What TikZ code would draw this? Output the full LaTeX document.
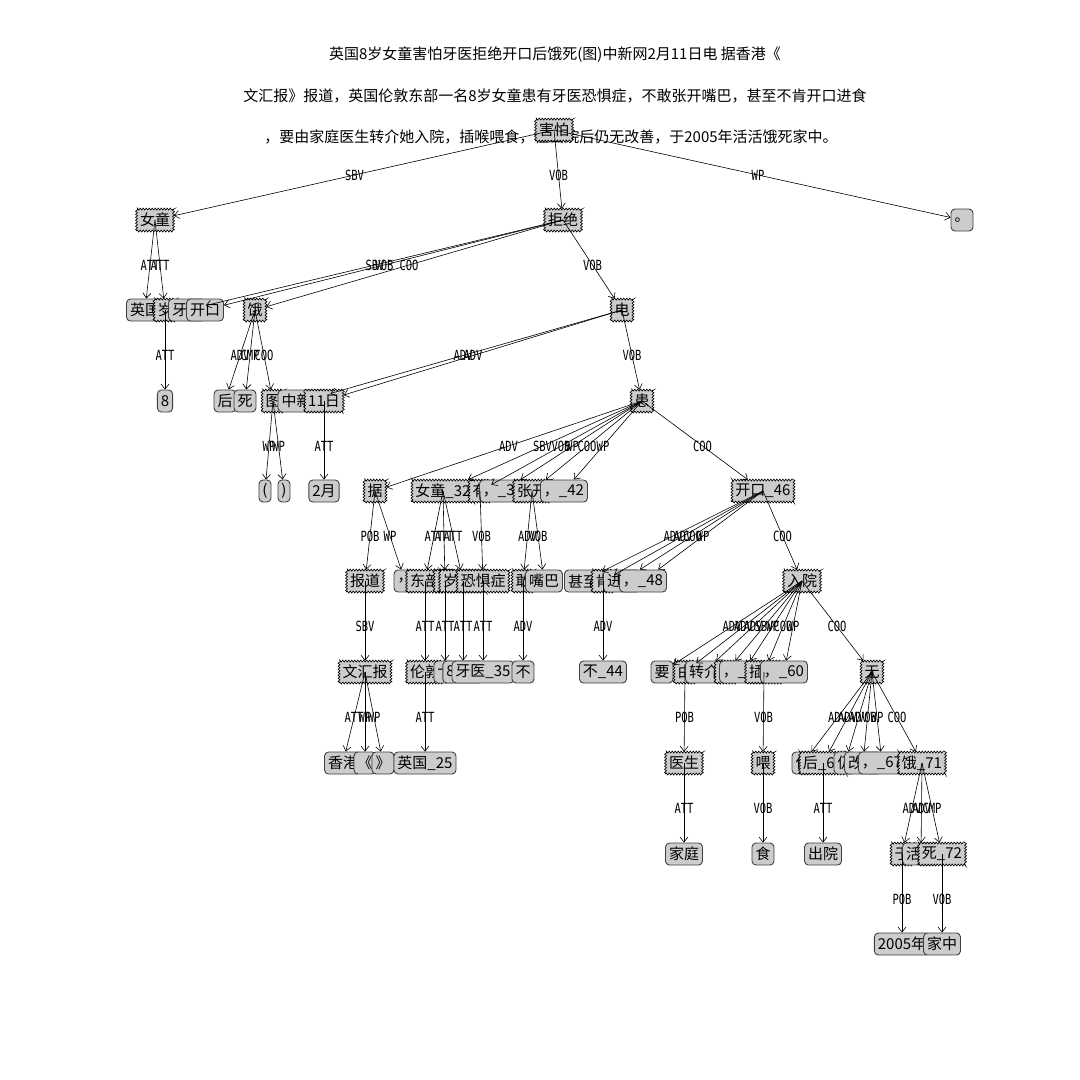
\documentclass[tikz,border=0pt]{standalone}
\usepackage{fontspec}
\usetikzlibrary{decorations.pathmorphing,arrows.meta}
\newfontfamily\cjk{Noto Sans CJK SC}
\newfontfamily\labfont[FakeStretch=0.75]{DejaVu Sans Mono}
\newcommand\depedge[3]{\draw[edge] (#1.center) -- (#2); \path (#1.center) -- (#2.center) node[midway,lab]{#3};}
\tikzset{
  base/.style={font=\cjk\fontsize{15}{15}\selectfont, fill=gray!40, inner xsep=3.5pt, inner ysep=0pt, minimum height=22pt},
  Z/.style={base, draw=black, line width=0.6pt, decorate, decoration={zigzag, segment length=3pt, amplitude=1pt}},
  R/.style={base, draw=black!75, line width=0.9pt, rounded corners=4pt},
  lab/.style={font=\labfont\fontsize{14}{14}\selectfont, inner sep=0pt},
  edge/.style={line width=0.6pt, -{Straight Barb[length=5pt,width=8pt]}},
  ttl/.style={font=\cjk\fontsize{15}{15}\selectfont, inner sep=0pt}
}
\begin{document}
\begin{tikzpicture}[x=1pt,y=-1pt]
\useasboundingbox (0,0) rectangle (1080,1080);
\fill[white] (0,0) rectangle (1080,1080);
% title
\node[ttl] (t1) at (555,55) {英国8岁女童害怕牙医拒绝开口后饿死(图)中新网2月11日电 据香港《};
\node[ttl] (t2) at (555,96) {文汇报》报道，英国伦敦东部一名8岁女童患有牙医恐惧症，不敢张开嘴巴，甚至不肯开口进食};
\node[ttl] (t3) at (551,137) {，要由家庭医生转介她入院，插喉喂食，但出院后仍无改善，于2005年活活饿死家中。};
% level 0
\node[Z] (hp) at (554,130) {害怕};
% level 1
\node[Z] (nt) at (155,220) {女童};
\node[Z] (jj) at (563,220) {拒绝};
\node[R] (ju) at (962,220) {。};
% level 2
\node[R] (yg) at (145,310) {英国};
\node[Z] (sui) at (165,310) {岁};
\node[R] (yy) at (187,310) {牙医};
\node[R] (kk) at (205,310) {开口};
\node[Z] (e) at (255,310) {饿};
\node[Z] (dian) at (622,310) {电};
% level 3
\node[R] (e8) at (165,401) {8};
\node[R] (hou) at (225,401) {后};
\node[R] (si) at (245,401) {死};
\node[Z] (tu) at (273,401) {图};
\node[R] (zxw) at (304,401) {中新网};
\node[Z] (r11) at (324,401) {11日};
\node[Z] (huan) at (642,401) {患};
% level 4
\node[R] (lp) at (265,491) {(};
\node[R] (rp) at (284,491) {)};
\node[R] (feb) at (324,491) {2月};
\node[Z] (ju4) at (375,491) {据};
\node[Z] (nt32) at (443,491) {女童\_32};
\node[Z] (you) at (480,491) {有};
\node[R] (c37) at (503,491) {，\_37};
\node[Z] (zk) at (532,491) {张开};
\node[R] (c42) at (564,491) {，\_42};
\node[Z] (kk46) at (763,491) {开口\_46};
% level 5
\node[Z] (bd) at (365,581) {报道};
\node[R] (c24) at (405,581) {，};
\node[Z] (db) at (425,581) {东部};
\node[Z] (ming) at (445,581) {名};
\node[Z] (sui31) at (463,581) {岁\_31};
\node[Z] (kjz) at (483,581) {恐惧症};
\node[Z] (gan) at (523,581) {敢};
\node[R] (zb) at (544,581) {嘴巴};
\node[R] (sz) at (583,581) {甚至};
\node[Z] (ken) at (603,581) {肯};
\node[R] (js) at (622,581) {进食};
\node[R] (c48) at (643,581) {，\_48};
\node[Z] (ry) at (802,581) {入院};
% level 6
\node[Z] (whb) at (365,672) {文汇报};
\node[Z] (ld) at (425,672) {伦敦};
\node[R] (yi) at (445,672) {一};
\node[R] (e30) at (463,672) {8\_30};
\node[R] (yy35) at (483,672) {牙医\_35};
\node[R] (bu) at (523,672) {不};
\node[R] (bu44) at (603,672) {不\_44};
\node[R] (yao) at (662,672) {要};
\node[Z] (you2) at (685,672) {由};
\node[R] (zj) at (704,672) {转介};
\node[Z] (ta) at (726,672) {她};
\node[R] (c56) at (743,672) {，\_56};
\node[Z] (cha) at (764,672) {插喉};
\node[R] (c60) at (784,672) {，\_60};
\node[Z] (wu) at (872,672) {无};
% level 7
\node[R] (xg) at (343,763) {香港};
\node[R] (lq) at (365,763) {《};
\node[R] (rq) at (383,763) {》};
\node[R] (yg25) at (425,763) {英国\_25};
\node[Z] (ys) at (684,763) {医生};
\node[Z] (wei) at (763,763) {喂};
\node[R] (dan) at (803,763) {但};
\node[Z] (hou63) at (823,763) {后\_63};
\node[R] (reng) at (845,763) {仍};
\node[R] (gs) at (863,763) {改善};
\node[R] (c67) at (882,763) {，\_67};
\node[Z] (e71) at (922,763) {饿\_71};
% level 8
\node[R] (jt) at (684,854) {家庭};
\node[R] (shi) at (763,854) {食};
\node[R] (cy) at (823,854) {出院};
\node[Z] (yu) at (902,854) {于};
\node[R] (hh) at (921,854) {活活};
\node[Z] (si72) at (942,854) {死\_72};
% level 9
\node[R] (n2005) at (902,944) {2005年};
\node[R] (jz) at (942,944) {家中};
% edges
\depedge{hp}{nt}{SBV}
\depedge{hp}{jj}{VOB}
\depedge{hp}{ju}{WP}
\depedge{nt}{yg}{ATT}
\depedge{nt}{sui}{ATT}
\depedge{jj}{yy}{SBV}
\depedge{jj}{kk}{VOB}
\depedge{jj}{e}{COO}
\depedge{jj}{dian}{VOB}
\depedge{sui}{e8}{ATT}
\depedge{e}{hou}{ADV}
\depedge{e}{si}{CMP}
\depedge{e}{tu}{COO}
\depedge{dian}{zxw}{ADV}
\depedge{dian}{r11}{ADV}
\depedge{dian}{huan}{VOB}
\depedge{tu}{lp}{WP}
\depedge{tu}{rp}{WP}
\depedge{r11}{feb}{ATT}
\depedge{huan}{ju4}{ADV}
\depedge{huan}{nt32}{SBV}
\depedge{huan}{you}{VOB}
\depedge{huan}{c37}{WP}
\depedge{huan}{zk}{COO}
\depedge{huan}{c42}{WP}
\depedge{huan}{kk46}{COO}
\depedge{ju4}{bd}{POB}
\depedge{ju4}{c24}{WP}
\depedge{nt32}{db}{ATT}
\depedge{nt32}{ming}{ATT}
\depedge{nt32}{sui31}{ATT}
\depedge{you}{kjz}{VOB}
\depedge{zk}{gan}{ADV}
\depedge{zk}{zb}{VOB}
\depedge{kk46}{sz}{ADV}
\depedge{kk46}{ken}{ADV}
\depedge{kk46}{js}{COO}
\depedge{kk46}{c48}{WP}
\depedge{kk46}{ry}{COO}
\depedge{bd}{whb}{SBV}
\depedge{db}{ld}{ATT}
\depedge{ming}{yi}{ATT}
\depedge{sui31}{e30}{ATT}
\depedge{kjz}{yy35}{ATT}
\depedge{gan}{bu}{ADV}
\depedge{ken}{bu44}{ADV}
\depedge{ry}{yao}{ADV}
\depedge{ry}{you2}{ADV}
\depedge{ry}{zj}{ADV}
\depedge{ry}{ta}{SBV}
\depedge{ry}{c56}{WP}
\depedge{ry}{cha}{COO}
\depedge{ry}{c60}{WP}
\depedge{ry}{wu}{COO}
\depedge{whb}{xg}{ATT}
\depedge{whb}{lq}{WP}
\depedge{whb}{rq}{WP}
\depedge{ld}{yg25}{ATT}
\depedge{you2}{ys}{POB}
\depedge{cha}{wei}{VOB}
\depedge{wu}{dan}{ADV}
\depedge{wu}{hou63}{ADV}
\depedge{wu}{reng}{ADV}
\depedge{wu}{gs}{VOB}
\depedge{wu}{c67}{WP}
\depedge{wu}{e71}{COO}
\depedge{ys}{jt}{ATT}
\depedge{wei}{shi}{VOB}
\depedge{hou63}{cy}{ATT}
\depedge{e71}{yu}{ADV}
\depedge{e71}{hh}{ADV}
\depedge{e71}{si72}{CMP}
\depedge{yu}{n2005}{POB}
\depedge{si72}{jz}{VOB}
\end{tikzpicture}
\end{document}
